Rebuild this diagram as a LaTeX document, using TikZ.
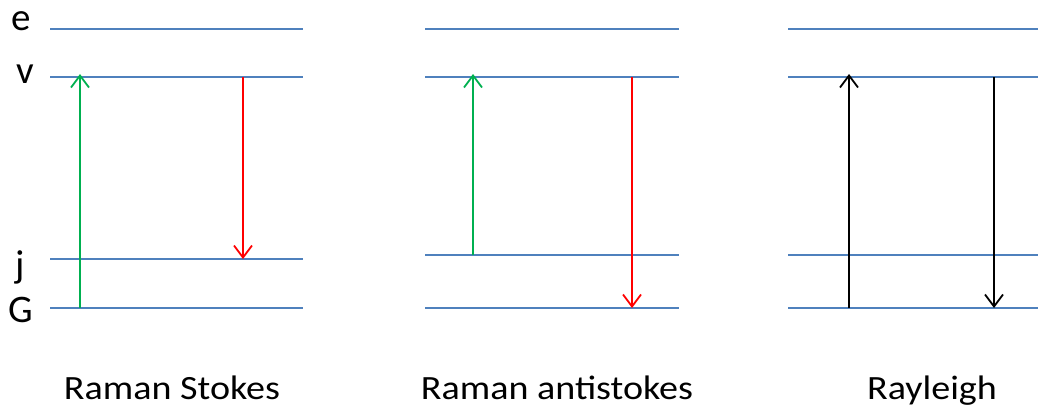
\documentclass[tikz,border=0pt]{standalone}
\usepackage{fontspec}
\setmainfont{Carlito}
\usetikzlibrary{arrows.meta}
\definecolor{levelblue}{HTML}{4F81BD}
\definecolor{pumpgreen}{HTML}{00B050}
\definecolor{emitred}{HTML}{FF0000}
\tikzset{
  level/.style={draw=levelblue, line width=2pt},
  trans/.style={line width=1.8pt, -{Straight Barb[length=12pt,width=18pt,line width=1.8pt]}},
  levlabel/.style={font=\fontsize{39}{39}\selectfont, inner sep=0pt, anchor=base},
  caption/.style={font=\fontsize{34}{35}\selectfont, inner sep=0pt, anchor=base}
}
\begin{document}
\begin{tikzpicture}[x=1pt, y=-1pt]
\useasboundingbox (0,0) rectangle (1038,410);

% level labels
\node[levlabel] (le) at (21,30) {e};
\node[levlabel] (lv) at (25,83) {v};
\node[levlabel] (lj) at (20,277) {j};
\node[levlabel] (lG) at (21,322) {G};

% energy levels: Raman Stokes
\coordinate (ae1) at (50,29);  \coordinate (ae2) at (303,29);
\coordinate (av1) at (50,77);  \coordinate (av2) at (303,77);
\coordinate (aj1) at (50,259); \coordinate (aj2) at (303,259);
\coordinate (aG1) at (50,308); \coordinate (aG2) at (303,308);
\draw[level] (ae1) -- (ae2);
\draw[level] (av1) -- (av2);
\draw[level] (aj1) -- (aj2);
\draw[level] (aG1) -- (aG2);

% energy levels: Raman antistokes
\coordinate (be1) at (425,29);  \coordinate (be2) at (679,29);
\coordinate (bv1) at (425,77);  \coordinate (bv2) at (679,77);
\coordinate (bj1) at (425,255); \coordinate (bj2) at (679,255);
\coordinate (bG1) at (425,308); \coordinate (bG2) at (679,308);
\draw[level] (be1) -- (be2);
\draw[level] (bv1) -- (bv2);
\draw[level] (bj1) -- (bj2);
\draw[level] (bG1) -- (bG2);

% energy levels: Rayleigh
\coordinate (ce1) at (788,29);  \coordinate (ce2) at (1038,29);
\coordinate (cv1) at (788,77);  \coordinate (cv2) at (1038,77);
\coordinate (cj1) at (788,255); \coordinate (cj2) at (1038,255);
\coordinate (cG1) at (788,308); \coordinate (cG2) at (1038,308);
\draw[level] (ce1) -- (ce2);
\draw[level] (cv1) -- (cv2);
\draw[level] (cj1) -- (cj2);
\draw[level] (cG1) -- (cG2);

% transitions: Raman Stokes
\coordinate (aupS) at (80,308);  \coordinate (aupE) at (80,74);
\coordinate (adnS) at (243,77);  \coordinate (adnE) at (243,259);
\draw[trans, pumpgreen] (aupS) -- (aupE);
\draw[trans, emitred] (adnS) -- (adnE);

% transitions: Raman antistokes
\coordinate (bupS) at (473,255); \coordinate (bupE) at (473,74);
\coordinate (bdnS) at (632,77);  \coordinate (bdnE) at (632,308);
\draw[trans, pumpgreen] (bupS) -- (bupE);
\draw[trans, emitred] (bdnS) -- (bdnE);

% transitions: Rayleigh
\coordinate (cupS) at (849,308); \coordinate (cupE) at (849,74);
\coordinate (cdnS) at (994,77);  \coordinate (cdnE) at (994,308);
\draw[trans, black] (cupS) -- (cupE);
\draw[trans, black] (cdnS) -- (cdnE);

% captions
\node[caption] (capA) at (172,399) {\scalebox{1.12}[1]{Raman Stokes}};
\node[caption] (capB) at (557,399) {\scalebox{1.12}[1]{Raman antistokes}};
\node[caption] (capC) at (932,399) {\scalebox{1.12}[1]{Rayleigh}};
\end{tikzpicture}
\end{document}
